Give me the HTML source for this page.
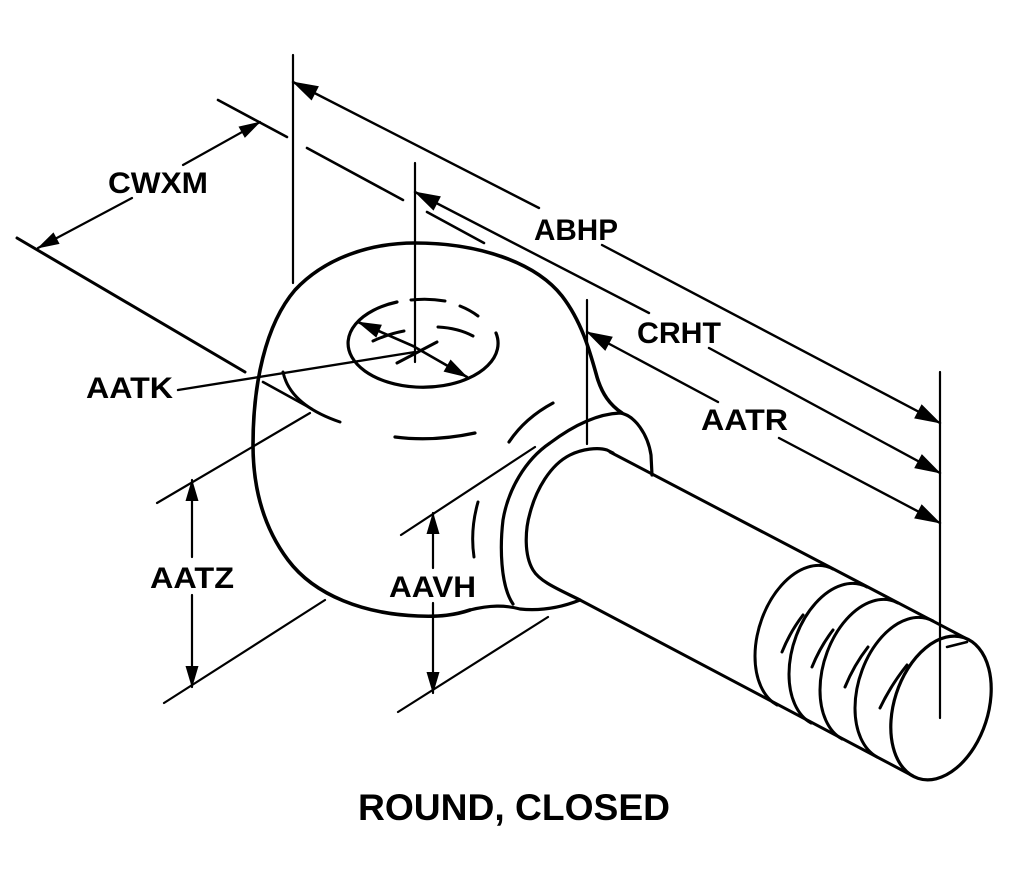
<!DOCTYPE html>
<html><head><meta charset="utf-8"><style>
html,body{margin:0;padding:0;background:#fff;}
svg{display:block;}
text{font-family:"Liberation Sans",Arial,sans-serif;font-weight:bold;fill:#000;}
</style></head><body>
<svg width="1017" height="887" viewBox="0 0 1017 887" xmlns="http://www.w3.org/2000/svg">
<rect width="1017" height="887" fill="#fff"/>
<defs>
<marker id="a" markerUnits="userSpaceOnUse" markerWidth="30" markerHeight="20" refX="25" refY="8" orient="auto" overflow="visible"><path d="M0,0 L26,8 L0,16 Z" fill="#000"/></marker>
<marker id="b" markerUnits="userSpaceOnUse" markerWidth="26" markerHeight="16" refX="21" refY="6.5" orient="auto" overflow="visible"><path d="M0,0 L22,6.5 L0,13 Z" fill="#000"/></marker>
<marker id="c" markerUnits="userSpaceOnUse" markerWidth="28" markerHeight="18" refX="23" refY="7" orient="auto" overflow="visible"><path d="M0,0 L24,7 L0,14 Z" fill="#000"/></marker>
</defs>

<g stroke="#000" fill="none" stroke-width="2.2" stroke-linecap="round">
<!-- extension verticals -->
<line x1="293" y1="55" x2="293" y2="283"/>
<line x1="415" y1="163" x2="415" y2="362"/>
<line x1="587" y1="300" x2="587" y2="444"/>
<line x1="940" y1="372" x2="940" y2="718"/>

<!-- CWXM extension lines -->
<line x1="218" y1="100" x2="287" y2="137" stroke-width="2.6"/>
<line x1="307" y1="148" x2="403" y2="200" stroke-width="2.6"/>
<line x1="427" y1="212" x2="484" y2="243" stroke-width="2.6"/>
<line x1="17" y1="238" x2="245" y2="372" stroke-width="3"/>
<line x1="263" y1="382" x2="312" y2="409" stroke-width="2.6"/>

<!-- AATZ / AAVH extension lines -->
<line x1="310" y1="413" x2="157" y2="503"/>
<line x1="164" y1="703" x2="325" y2="600"/>
<line x1="401" y1="535" x2="535" y2="447"/>
<line x1="398" y1="712" x2="548" y2="617"/>

<!-- dimension lines with arrows -->
<line x1="539" y1="208" x2="293" y2="82" stroke-width="2.4" marker-end="url(#a)"/>
<line x1="602" y1="245" x2="940" y2="423" stroke-width="2.4" marker-end="url(#a)"/>
<line x1="649" y1="313" x2="415" y2="192" stroke-width="2.4" marker-end="url(#a)"/>
<line x1="709" y1="348" x2="940" y2="473" stroke-width="2.4" marker-end="url(#a)"/>
<line x1="718" y1="402" x2="587" y2="332" stroke-width="2.4" marker-end="url(#a)"/>
<line x1="779" y1="438" x2="940" y2="523" stroke-width="2.4" marker-end="url(#a)"/>

<line x1="183" y1="165" x2="260" y2="122" marker-end="url(#b)"/>
<line x1="132" y1="198" x2="38" y2="248" marker-end="url(#b)"/>

<line x1="192" y1="557" x2="192" y2="480" marker-end="url(#b)"/>
<line x1="192" y1="595" x2="192" y2="687" marker-end="url(#b)"/>
<line x1="433" y1="568" x2="433" y2="513" marker-end="url(#b)"/>
<line x1="433" y1="603" x2="433" y2="693" marker-end="url(#b)"/>

<!-- hole double arrow -->
<line x1="413" y1="346" x2="358" y2="322" stroke-width="2.6" marker-end="url(#c)"/>
<line x1="413" y1="346" x2="467" y2="377" stroke-width="2.6" marker-end="url(#c)"/>
<line x1="397" y1="363" x2="437" y2="342" stroke-width="3"/>

<!-- AATK leader -->
<line x1="178" y1="390" x2="415" y2="352" stroke-width="2.4"/>
</g>

<g stroke="#000" fill="none" stroke-width="3.6" stroke-linecap="round" stroke-linejoin="round">
<!-- eye outer contour -->
<path d="M470,610 C455,615 440,617 418,616 C365,614 315,596 288,560 C264,528 253,490 253,445 C253,385 265,325 295,290 C325,258 370,243 415,243 C478,243 535,262 562,296 C582,322 590,352 597,377 C602,394 610,405 622,413"/>
<!-- flange outer -->
<path d="M513,604 C500,585 500,545 503,520 C508,490 525,460 550,443 C570,428 595,414 620,413 C635,415 648,435 651,455 L652,475" stroke-width="3.2"/>
<path d="M470,610 C490,605 505,605 520,609 C540,611 560,608 580,600" stroke-width="3.2"/>
<!-- shank inner face -->
<path d="M580,600 C560,590 540,582 533,570 C524,555 525,530 530,513 C536,490 550,465 570,455 C582,449 598,447 607,450 L613,453" stroke-width="3.2"/>
<!-- shank -->
<line x1="610" y1="452" x2="969" y2="640" stroke-width="3"/>
<line x1="580" y1="600" x2="913" y2="776" stroke-width="3"/>
<ellipse cx="941" cy="708" rx="47" ry="74" transform="rotate(18 941 708)" stroke-width="3.2"/>
<path d="M947,647 L967,642" stroke-width="2.5"/>
<!-- thread rings -->
<g stroke-width="3">
<path transform="translate(-136,-71)" d="M969,640 A47 74 18 0 0 891,727 A47 74 18 0 0 913,776"/>
<path transform="translate(-102,-53)" d="M969,640 A47 74 18 0 0 891,727 A47 74 18 0 0 913,776"/>
<path transform="translate(-71,-37)" d="M969,640 A47 74 18 0 0 891,727 A47 74 18 0 0 913,776"/>
<path transform="translate(-36,-19)" d="M969,640 A47 74 18 0 0 891,727 A47 74 18 0 0 913,776"/>
</g>
<g stroke-width="3">
<path d="M803,615 Q790,632 782,652"/>
<path d="M833,630 Q820,647 812,667"/>
<path d="M868,647 Q854,665 845,687"/>
<path d="M907,665 Q891,685 880,708"/>
</g>

<!-- hole -->
<path d="M397,302 A75 44 0 1 0 496,333" stroke-width="3.2"/>
<path d="M411,300 Q428,298 445,301" stroke-width="3"/>
<path d="M460,306 Q470,310 478,316" stroke-width="3"/>
<path d="M438,327 Q458,328 473,336" stroke-width="3"/>
<path d="M373,341 Q388,334 404,331" stroke-width="3"/>

<!-- eye surface dashes -->
<path d="M283,372 Q290,405 340,422" stroke-width="3"/>
<path d="M395,437 Q433,442 475,433" stroke-width="3.2"/>
<path d="M509,442 Q525,418 553,403" stroke-width="3.2"/>
<path d="M478,502 Q470,530 474,557" stroke-width="3"/>
</g>

<!-- labels -->
<text x="108" y="193" font-size="30" textLength="100" lengthAdjust="spacingAndGlyphs">CWXM</text>
<text x="534" y="240" font-size="30" textLength="84" lengthAdjust="spacingAndGlyphs">ABHP</text>
<text x="637" y="343" font-size="30" textLength="84" lengthAdjust="spacingAndGlyphs">CRHT</text>
<text x="701" y="430" font-size="30" textLength="87" lengthAdjust="spacingAndGlyphs">AATR</text>
<text x="86" y="398" font-size="30" textLength="87" lengthAdjust="spacingAndGlyphs">AATK</text>
<text x="150" y="588" font-size="30" textLength="84" lengthAdjust="spacingAndGlyphs">AATZ</text>
<text x="389" y="597" font-size="30" textLength="87" lengthAdjust="spacingAndGlyphs">AAVH</text>
<text x="358" y="820" font-size="37" textLength="312" lengthAdjust="spacingAndGlyphs">ROUND, CLOSED</text>
</svg>
</body></html>
